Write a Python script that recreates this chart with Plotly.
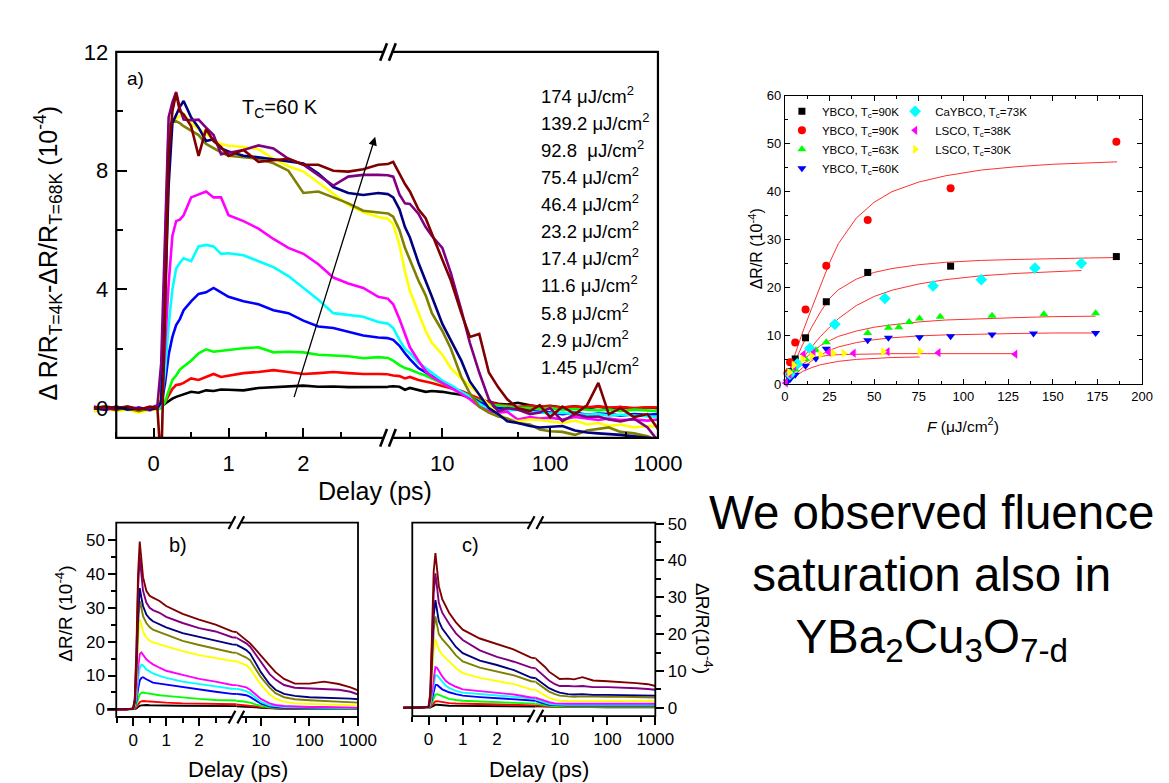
import plotly.graph_objects as go

W, H = 1169, 783
FONT = "Liberation Sans, Arial, Helvetica, sans-serif"


def fx(px):
    return px / W


def fy(py):
    return 1 - py / H


# ---------------- panel a: 60 K film, pump-probe difference traces ----------------
T_A = [-0.8, -0.65, -0.5, -0.35, -0.2, -0.05,
       0.05, 0.1, 0.15, 0.2, 0.25, 0.3, 0.35, 0.4,
       0.5, 0.6, 0.7, 0.8, 0.9, 1.0,
       1.2, 1.4, 1.6, 1.8, 2.0, 2.2, 2.4, 2.6, 2.8, 3.0,
       3.5, 4, 4.5, 5, 6, 7, 8, 10, 12, 15, 18, 22, 27, 33, 40, 50, 65, 80,
       100, 130, 170, 220, 280, 350, 450, 600, 800, 1000]

A_BLACK = [-0.05, 0.03, -0.05, 0.0, -0.05, 0.02,
           0.0, 0.05, 0.15, 0.25, 0.32, 0.38, 0.42, 0.45,
           0.55, 0.52, 0.6, 0.58, 0.63, 0.62,
           0.6, 0.68, 0.7, 0.74, 0.76, 0.72, 0.73, 0.71, 0.72, 0.72,
           0.74, 0.72, 0.62, 0.68, 0.6, 0.55, 0.58, 0.55, 0.5, 0.45, 0.35, 0.28, 0.2, 0.15, 0.12, 0.18, 0.1, 0.05,
           0.08, 0.02, 0.06, 0.0, 0.05, 0.0, 0.04, -0.02, 0.03, 0.0]
A_RED = [0.02, -0.05, 0.05, -0.05, 0.0, -0.03,
         0.0, 0.05, 0.2, 0.45, 0.65, 0.78, 0.8, 0.85,
         1.0, 0.95, 1.05, 1.15, 1.05, 1.1,
         1.18, 1.22, 1.28, 1.22, 1.15, 1.18, 1.22, 1.18, 1.15, 1.15,
         1.1, 1.08, 1.0, 1.05, 0.95, 0.9, 0.85, 0.75, 0.68, 0.58, 0.45, 0.32, 0.2, 0.12, 0.08, 0.05, 0.08, 0.05,
         0.06, 0.02, 0.05, 0.03, 0.06, 0.02, 0.04, 0.0, 0.03, 0.02]
A_GREEN = [-0.1, -0.02, -0.05, 0.02, -0.08, 0.0,
           -0.05, 0.0, 0.2, 0.6, 0.95, 1.1, 1.3, 1.4,
           1.6, 1.85, 1.98, 1.9, 1.93, 1.98,
           2.02, 2.05, 1.88, 1.9, 1.88, 1.8, 1.78, 1.75, 1.68, 1.72,
           1.6, 1.45, 1.35, 1.3, 1.18, 1.1, 1.0, 0.82, 0.7, 0.55, 0.4, 0.25, 0.12, 0.08, 0.05, 0.02, 0.0, -0.02,
           0.0, -0.05, -0.03, -0.05, -0.08, -0.05, -0.1, -0.05, -0.08, -0.1]
A_BLUE = [0.05, -0.05, 0.0, -0.05, 0.02, -0.05,
          0.0, 0.1, 0.8, 1.8, 2.4, 2.8, 3.0, 3.3,
          3.6, 3.85, 3.9, 4.05, 3.9, 3.75,
          3.6, 3.5, 3.3, 3.2, 2.95, 2.75, 2.7, 2.58, 2.45, 2.38,
          2.3, 2.1, 1.85, 1.65, 1.35, 1.2, 1.08, 0.87, 0.72, 0.55, 0.4, 0.2, 0.05, 0.0, -0.02, -0.05, -0.1, -0.12,
          -0.15, -0.2, -0.15, -0.22, -0.18, -0.2, -0.25, -0.2, -0.22, -0.2]
A_CYAN = [-0.05, 0.05, 0.0, -0.05, -0.1, 0.0,
          -0.05, 0.1, 1.2, 2.8, 4.0, 4.7, 4.9, 5.05,
          4.95, 5.45, 5.5, 5.45, 5.2, 5.22,
          5.15, 4.95, 4.75, 4.45, 4.05, 3.65, 3.2, 3.15, 3.08, 2.9,
          2.7, 2.3, 2.0, 1.85, 1.53, 1.35, 1.2, 0.93, 0.78, 0.55, 0.4, 0.15, -0.05, -0.12, -0.08, -0.05, -0.12, -0.15,
          -0.18, -0.15, -0.2, -0.22, -0.2, -0.25, -0.22, -0.25, -0.28, -0.3]
A_MAGENTA = [0.0, -0.05, -0.05, 0.0, -0.05, -0.08,
             0.0, 0.2, 2.0, 4.2, 5.8, 6.3, 6.35, 6.5,
             7.1, 7.2, 7.3, 7.1, 7.1, 6.5,
             6.3, 6.05, 5.7, 5.4, 5.2, 4.85, 4.4, 4.2, 4.05, 3.75,
             3.5, 3.0, 2.5, 2.05, 1.6, 1.25, 1.05, 0.85, 0.7, 0.48, 0.3, 0.05, -0.1, -0.15, -0.12, -0.38, -0.3, -0.35,
             -0.32, -0.38, -0.3, -0.35, -0.4, -0.35, -0.4, -0.38, -0.42, -0.38]
A_YELLOW = [-0.1, 0.0, -0.1, -0.05, -0.15, -0.05,
            -0.05, 0.5, 4.5, 9.2, 9.6, 9.75, 9.85, 9.9,
            9.6, 9.4, 9.25, 9.05, 8.9, 8.84,
            8.8, 8.72, 8.4, 8.15, 7.97, 7.6, 7.2, 6.85, 6.6, 6.44,
            6.2, 5.5, 4.6, 3.95, 3.2, 2.6, 2.2, 1.8, 1.35, 1.0, 0.75, 0.45, 0.1, -0.2, -0.35, -0.44, -0.38, -0.4,
            -0.45, -0.5, -0.42, -0.55, -0.5, -0.6, -0.55, -0.65, -0.6, -0.62]
A_OLIVE = [0.0, 0.05, -0.05, 0.0, -0.1, 0.0,
           0.0, 0.3, 5.0, 9.5, 9.65, 9.66, 9.6, 9.5,
           9.35, 9.2, 8.9, 8.75, 8.62, 8.5,
           8.45, 8.4, 8.25, 8.0, 7.25, 7.3, 7.1, 6.9, 6.65, 6.6,
           6.45, 6.0, 5.4, 5.0, 4.3, 3.8, 3.2, 2.6, 2.0, 1.05, 0.5, 0.05, -0.15, -0.28, -0.35, -0.5, -0.55, -0.72,
           -0.78, -0.8, -0.9, -0.75, -0.7, -0.65, -0.8, -0.85, -0.95, -1.1]
A_NAVY = [0.0, -0.05, 0.05, -0.05, 0.0, -0.05,
          0.0, 0.2, 3.5, 7.5, 9.6, 9.9, 10.15, 10.35,
          9.8, 9.45, 9.0, 9.06, 8.75, 8.65,
          8.5, 8.45, 8.38, 8.32, 8.24, 7.9, 7.45, 7.25, 7.18, 7.25,
          7.1, 6.7, 6.1, 5.75, 4.9, 4.3, 3.75, 2.84, 2.3, 1.6, 0.9, 0.45, 0.0, -0.2, -0.44, -0.5, -0.6, -0.65,
          -0.62, -0.6, -0.75, -0.82, -0.85, -0.87, -0.9, -0.95, -1.0, -1.04]
A_PURPLE = [0.05, 0.0, -0.05, 0.05, -0.02, 0.0,
            0.1, 1.5, 6.0, 9.8, 10.3, 10.65, 10.1, 9.72,
            9.7, 9.72, 9.45, 9.2, 8.55, 8.6,
            8.7, 8.85, 8.75, 8.4, 8.2, 7.85, 7.5, 7.8, 7.86, 7.86,
            7.8, 7.2, 6.9, 6.88, 6.55, 6.1, 5.8, 5.4, 4.55, 3.3, 2.2, 1.2, 0.3, -0.1, 0.0, -0.05, -0.2, -0.15,
            0.0, -0.44, -0.2, -0.3, -0.28, -0.38, -0.45, -0.35, -0.65, -1.1]
A_MAROON = [0.0, 0.05, 0.0, 0.05, -0.05, 0.05,
            0.0, -2.0, 3.0, 8.5, 10.0, 10.6, 10.0, 9.9,
            9.5, 8.5, 9.4, 9.0, 8.8, 8.5,
            8.7, 8.3, 8.35, 8.4, 8.2, 8.2, 8.0, 7.97, 8.05, 8.2,
            8.3, 7.9, 7.55, 7.3, 6.7, 6.4, 5.9, 5.0, 4.3, 3.2, 2.4, 2.5, 1.2, 0.7, 0.3, 0.0, -0.1, 0.1,
            -0.3, 0.05, -0.2, 0.1, 0.85, -0.2, 0.0, -0.3, -0.2, -0.7]

# ---------------- panels b and c: time grid shared by both ----------------
T_BC = [-0.8, -0.5, -0.2, 0.0, 0.05, 0.1, 0.15, 0.2, 0.25, 0.3, 0.4, 0.5, 0.6, 0.8, 1.0,
        1.5, 2.0, 2.5, 3.0, 4, 5, 6, 8, 10, 15, 20, 30, 50, 100, 200, 400, 700, 1000]

B_BLACK = [0, 0, 0, 0.02, 0.1, 0.3, 0.7, 1.05, 1.2, 1.3, 1.3, 1.25, 1.2, 1.2, 1.15,
           1.1, 1.05, 1.0, 0.95, 0.9, 0.85, 0.75, 0.6, 0.45, 0.3, 0.2, 0.15, 0.1, 0.1, 0.1, 0.08, 0.08, 0.08]
B_RED = [0, 0, 0, 0.03, 0.2, 0.6, 1.5, 2.1, 2.4, 2.5, 2.4, 2.3, 2.2, 2.1, 2.0,
         1.8, 1.7, 1.6, 1.5, 1.4, 1.3, 1.2, 0.9, 0.7, 0.4, 0.3, 0.2, 0.2, 0.15, 0.1, 0.1, 0.1, 0.1]
B_GREEN = [0, 0, 0, 0.05, 0.3, 1.3, 3.0, 4.4, 4.9, 5.0, 4.8, 4.6, 4.4, 4.2, 4.0,
           3.5, 3.1, 2.8, 2.5, 2.4, 2.3, 2.0, 1.4, 1.0, 0.6, 0.4, 0.3, 0.3, 0.2, 0.2, 0.2, 0.2, 0.2]
B_BLUE = [0, 0, 0, 0.1, 0.5, 2.5, 6.0, 8.5, 9.3, 9.5, 8.9, 8.3, 7.9, 7.6, 7.3,
          6.5, 5.9, 5.2, 4.6, 4.4, 4.2, 3.7, 2.6, 1.7, 0.9, 0.6, 0.5, 0.4, 0.3, 0.3, 0.3, 0.3, 0.3]
B_CYAN = [0, 0, 0, 0.1, 0.8, 3.5, 9.0, 12.3, 13.2, 13.0, 11.8, 11.2, 10.6, 9.9, 9.3,
          8.2, 7.4, 6.8, 6.1, 5.8, 5.4, 4.8, 3.3, 2.2, 1.2, 0.9, 0.7, 0.6, 0.5, 0.5, 0.4, 0.4, 0.4]
B_MAGENTA = [0, 0, 0, 0.1, 1.0, 5.0, 12.0, 16.3, 16.8, 16.2, 14.8, 14.0, 13.3, 12.3, 11.4,
             10.2, 9.0, 8.2, 7.2, 6.9, 6.5, 5.8, 4.3, 3.1, 1.8, 1.3, 1.0, 0.8, 0.7, 0.7, 0.6, 0.6, 0.5]
B_YELLOW = [0, 0, 0, 0.2, 1.5, 8.0, 20.0, 26.5, 25.0, 23.0, 21.2, 20.3, 19.8, 19.2, 18.7,
            17.2, 16.0, 15.2, 14.3, 13.6, 13.0, 12.0, 9.5, 7.3, 4.5, 3.2, 2.3, 1.8, 1.6, 1.5, 1.4, 1.3, 1.2]
B_OLIVE = [0, 0, 0, 0.2, 2.0, 10.0, 25.0, 32.0, 30.0, 27.5, 25.5, 24.3, 23.5, 22.8, 22.0,
           20.2, 19.0, 18.0, 16.8, 16.0, 15.3, 14.5, 11.8, 9.5, 6.5, 4.8, 3.6, 3.0, 2.7, 2.5, 2.4, 2.2, 2.0]
B_NAVY = [0, 0, 0, 0.2, 2.0, 12.0, 28.0, 35.8, 33.0, 30.5, 28.0, 26.8, 26.0, 25.0, 24.2,
          22.5, 21.3, 20.3, 19.2, 18.3, 17.5, 16.5, 13.5, 11.0, 7.5, 5.8, 4.6, 4.0, 3.6, 3.5, 3.4, 3.2, 3.0]
B_PURPLE = [0, 0, 0, 0.3, 3.0, 16.0, 36.0, 45.0, 40.0, 35.0, 31.5, 30.0, 29.3, 28.5, 27.3,
            25.5, 24.0, 23.0, 21.3, 20.2, 19.5, 18.5, 16.0, 14.0, 10.5, 8.8, 7.2, 6.4, 6.2, 6.0, 5.8, 5.2, 4.4]
B_MAROON = [0, 0, 0, 0.3, 3.0, 18.0, 40.0, 49.5, 44.0, 39.0, 35.0, 33.5, 33.0, 32.0, 30.5,
            28.2, 26.5, 25.0, 23.0, 21.5, 20.5, 19.5, 17.5, 16.0, 13.0, 11.0, 9.0, 7.6, 7.6, 8.2, 7.5, 6.5, 5.6]

C_BLACK = [0, 0, 0, 0.01, 0.05, 0.3, 0.6, 0.8, 0.8, 0.75, 0.7, 0.6, 0.55, 0.5, 0.5,
           0.45, 0.4, 0.38, 0.35, 0.3, 0.25, 0.2, 0.15, 0.12, 0.1, 0.1, 0.1, 0.1, 0.1, 0.1, 0.1, 0.1, 0.1]
C_RED = [0, 0, 0, 0.02, 0.15, 0.7, 1.4, 1.75, 1.8, 1.7, 1.5, 1.3, 1.25, 1.15, 1.1,
         1.0, 0.9, 0.75, 0.6, 0.45, 0.35, 0.3, 0.25, 0.2, 0.2, 0.2, 0.2, 0.2, 0.2, 0.2, 0.2, 0.2, 0.2]
C_GREEN = [0, 0, 0, 0.02, 0.3, 1.4, 2.9, 3.6, 3.7, 3.5, 3.0, 2.6, 2.4, 2.1, 1.9,
           1.7, 1.5, 1.3, 1.1, 0.8, 0.6, 0.5, 0.4, 0.35, 0.35, 0.35, 0.35, 0.35, 0.35, 0.35, 0.35, 0.35, 0.35]
C_BLUE = [0, 0, 0, 0.05, 0.5, 2.5, 5.0, 6.2, 6.2, 5.8, 5.0, 4.6, 4.2, 3.7, 3.3,
          2.9, 2.6, 2.3, 1.9, 1.4, 1.0, 0.8, 0.7, 0.6, 0.6, 0.6, 0.6, 0.6, 0.6, 0.6, 0.6, 0.6, 0.6]
C_CYAN = [0, 0, 0, 0.1, 0.8, 3.5, 7.0, 8.8, 8.8, 8.2, 6.9, 6.0, 5.4, 4.6, 4.1,
          3.7, 3.3, 2.9, 2.4, 1.8, 1.3, 1.1, 0.9, 0.8, 0.8, 0.8, 0.8, 0.8, 0.8, 0.8, 0.8, 0.8, 0.8]
C_MAGENTA = [0, 0, 0, 0.1, 1.0, 4.5, 9.0, 11.0, 10.8, 10.0, 8.5, 7.3, 6.6, 5.7, 5.0,
             4.5, 4.1, 3.6, 2.8, 2.2, 1.7, 1.5, 1.2, 1.1, 1.1, 1.1, 1.1, 1.1, 1.1, 1.1, 1.1, 1.1, 1.1]
C_YELLOW = [0, 0, 0, 0.1, 1.5, 8.0, 15.5, 18.6, 17.2, 15.8, 14.4, 13.4, 12.6, 10.8, 9.4,
            8.1, 7.2, 6.4, 5.0, 4.0, 3.2, 2.7, 2.2, 1.9, 1.8, 1.8, 1.8, 1.8, 1.8, 1.8, 1.8, 1.8, 1.8]
C_OLIVE = [0, 0, 0, 0.2, 2.0, 11.0, 21.0, 24.8, 22.0, 20.0, 18.6, 17.6, 16.5, 14.2, 12.6,
           10.9, 9.9, 8.8, 7.2, 6.0, 5.0, 4.4, 3.7, 3.3, 3.1, 3.0, 3.1, 3.0, 3.0, 3.0, 3.0, 2.9, 2.8]
C_NAVY = [0, 0, 0, 0.2, 2.5, 13.0, 25.0, 29.2, 26.0, 23.5, 21.5, 20.3, 19.0, 16.5, 14.8,
          12.8, 11.6, 10.2, 8.2, 7.0, 6.0, 5.3, 4.6, 4.1, 3.7, 3.6, 3.7, 3.5, 3.5, 3.5, 3.5, 3.4, 3.3]
C_PURPLE = [0, 0, 0, 0.3, 3.5, 17.0, 31.0, 36.5, 32.0, 28.5, 25.8, 24.2, 22.8, 20.2, 18.4,
            15.6, 13.8, 12.5, 10.9, 9.5, 8.3, 7.4, 6.4, 5.9, 5.9, 5.8, 5.9, 5.6, 5.6, 5.5, 5.3, 5.1, 4.9]
C_MAROON = [0, 0, 0, 0.3, 4.0, 20.0, 37.0, 42.0, 37.0, 33.0, 29.5, 27.5, 25.8, 23.2, 21.2,
            18.8, 17.2, 15.8, 13.6, 12.2, 11.0, 9.8, 8.6, 7.8, 7.9, 7.7, 8.3, 7.4, 7.2, 7.0, 6.7, 6.4, 5.9]

# lowest to highest pump fluence (uJ/cm^2)
FLUENCES = ["1.45", "2.9", "5.8", "11.6", "17.4", "23.2", "46.4", "75.4", "92.8", "139.2", "174"]
COLORS = ["#000000", "#ff0000", "#00ff00", "#0000ff", "#00ffff", "#ff00ff",
          "#ffff00", "#808000", "#000080", "#800080", "#800000"]

A_SERIES = [A_BLACK, A_RED, A_GREEN, A_BLUE, A_CYAN, A_MAGENTA, A_YELLOW, A_OLIVE, A_NAVY, A_PURPLE, A_MAROON]
B_SERIES = [B_BLACK, B_RED, B_GREEN, B_BLUE, B_CYAN, B_MAGENTA, B_YELLOW, B_OLIVE, B_NAVY, B_PURPLE, B_MAROON]
C_SERIES = [C_BLACK, C_RED, C_GREEN, C_BLUE, C_CYAN, C_MAGENTA, C_YELLOW, C_OLIVE, C_NAVY, C_PURPLE, C_MAROON]

for s in A_SERIES:
    assert len(s) == len(T_A)
for s in B_SERIES + C_SERIES:
    assert len(s) == len(T_BC)

# ---------------- panel d: saturation of the amplitude vs fluence ----------------
D_YBCO90_SQ_F = [2.9, 5.8, 11.6, 23.2, 46.4, 92.8, 185.6]
D_YBCO90_SQ_Y = [2.6, 5.2, 9.6, 17.1, 23.2, 24.5, 26.5]
D_YBCO90_CI_F = [1.45, 2.9, 5.8, 11.6, 23.2, 46.4, 92.8, 185.6]
D_YBCO90_CI_Y = [2.2, 4.5, 8.6, 15.5, 24.6, 34.1, 40.7, 50.4]
D_YBCO63_F = [2.9, 5.8, 11.6, 17.4, 23.2, 46.4, 58, 63.8, 69.6, 75.4, 87, 116, 145, 174]
D_YBCO63_Y = [1.5, 3.0, 5.2, 7.0, 8.7, 10.6, 11.7, 11.8, 12.9, 13.6, 14.0, 14.2, 14.5, 14.7]
D_YBCO60_F = [1.45, 2.9, 5.8, 11.6, 17.4, 23.2, 46.4, 58, 75.4, 92.8, 116, 139.2, 174]
D_YBCO60_Y = [0.5, 1.0, 1.9, 3.8, 5.3, 7.3, 9.1, 9.6, 9.7, 9.9, 10.3, 10.5, 10.6]
D_CAYBCO_F = [2.8, 7, 14, 28, 56, 83, 110, 140, 166]
D_CAYBCO_Y = [2.0, 4.2, 7.4, 12.4, 17.8, 20.4, 21.7, 24.1, 25.1]
D_LSCO38_F = [0.5, 2.6, 5.2, 10.5, 16, 24.5, 38.5, 57.5, 86, 129]
D_LSCO38_Y = [0.2, 2.0, 3.6, 6.2, 6.5, 6.6, 6.4, 6.7, 6.5, 6.2]
D_LSCO30_F = [2.5, 5, 10, 15, 20, 27, 33, 55, 75.5]
D_LSCO30_Y = [2.4, 3.9, 5.2, 5.8, 6.1, 6.4, 6.4, 6.7, 6.8]

# saturation fit curves
FIT_F_186 = [0, 5, 10, 15, 20, 25, 30, 40, 50, 60, 75, 90, 110, 130, 150, 170, 186]
FIT_RED_Y = [0, 5.5, 10.8, 15.7, 20.3, 25.2, 29.2, 34.5, 37.8, 40.0, 42.0, 43.3, 44.5, 45.2, 45.7, 46.0, 46.2]
FIT_BLACK_Y = [0, 4.2, 8.2, 11.8, 15.0, 17.8, 19.6, 21.8, 23.2, 24.0, 24.8, 25.3, 25.7, 25.9, 26.1, 26.2, 26.3]
FIT_F_166 = [0, 5, 10, 15, 20, 25, 30, 40, 50, 60, 75, 90, 110, 130, 150, 166]
FIT_CYAN_Y = [0, 2.7, 5.3, 7.7, 9.9, 11.8, 13.6, 16.3, 18.2, 19.5, 20.8, 21.7, 22.5, 23.0, 23.4, 23.6]
FIT_F_174 = [0, 5, 10, 15, 20, 25, 30, 40, 50, 60, 75, 90, 110, 130, 150, 174]
FIT_GREEN_Y = [0, 2.5, 4.8, 6.6, 8.0, 9.0, 9.9, 11.0, 11.8, 12.3, 12.9, 13.3, 13.6, 13.8, 14.0, 14.1]
FIT_BLUE_Y = [0, 1.7, 3.4, 4.8, 6.0, 7.0, 7.7, 8.6, 9.2, 9.6, 10.0, 10.2, 10.4, 10.5, 10.6, 10.6]
FIT_F_129 = [0, 5, 10, 15, 20, 25, 30, 40, 60, 80, 100, 129]
FIT_MAGENTA_Y = [0, 2.4, 4.2, 5.2, 5.7, 6.0, 6.1, 6.2, 6.3, 6.3, 6.3, 6.3]
FIT_F_75 = [0, 5, 10, 15, 20, 25, 30, 40, 50, 60, 75.5]
FIT_YELLOW_Y = [0, 1.4, 2.6, 3.4, 4.0, 4.4, 4.7, 5.1, 5.3, 5.5, 5.6]

# split-axis geometry: linear part up to T_SPLIT ps, logarithmic part after it
T_SPLIT = 3.13
LOG_START = 0.4955  # log10(T_SPLIT)

fig = go.Figure()


def add_split_traces(t, series, xlin, xlog, yax, width):
    """Each trace is drawn twice: on the linear early-time axis and the log late-time axis."""
    for ys, col in zip(series, COLORS):
        lin = [(a, b) for a, b in zip(t, ys) if a <= 4.0]
        lg = [(a, b) for a, b in zip(t, ys) if a >= 2.0]
        for pts, xa in ((lin, xlin), (lg, xlog)):
            fig.add_trace(go.Scatter(
                x=[p[0] for p in pts], y=[p[1] for p in pts], mode="lines",
                line=dict(color=col, width=width), xaxis=xa, yaxis=yax,
                showlegend=False, hoverinfo="skip"))


add_split_traces(T_A, A_SERIES, "x", "x2", "y", 2.6)
add_split_traces(T_BC, B_SERIES, "x3", "x4", "y3", 1.9)
add_split_traces(T_BC, C_SERIES, "x5", "x6", "y5", 1.9)

for ff, yy in [(FIT_F_186, FIT_RED_Y), (FIT_F_186, FIT_BLACK_Y), (FIT_F_166, FIT_CYAN_Y),
               (FIT_F_174, FIT_GREEN_Y), (FIT_F_174, FIT_BLUE_Y), (FIT_F_129, FIT_MAGENTA_Y),
               (FIT_F_75, FIT_YELLOW_Y)]:
    fig.add_trace(go.Scatter(x=ff, y=yy, mode="lines", line=dict(color="#ff3030", width=1),
                             xaxis="x7", yaxis="y7", showlegend=False, hoverinfo="skip"))

D_SETS = [
    (D_YBCO90_SQ_F, D_YBCO90_SQ_Y, "YBCO, T<sub>c</sub>=90K", "square", "#000000", 7, "legend"),
    (D_YBCO90_CI_F, D_YBCO90_CI_Y, "YBCO, T<sub>c</sub>=90K", "circle", "#ff0000", 8, "legend"),
    (D_YBCO63_F, D_YBCO63_Y, "YBCO, T<sub>c</sub>=63K", "triangle-up", "#00ff00", 8, "legend"),
    (D_YBCO60_F, D_YBCO60_Y, "YBCO, T<sub>c</sub>=60K", "triangle-down", "#0000ff", 8, "legend"),
    (D_CAYBCO_F, D_CAYBCO_Y, "CaYBCO, T<sub>c</sub>=73K", "diamond", "#00ffff", 9, "legend2"),
    (D_LSCO38_F, D_LSCO38_Y, "LSCO, T<sub>c</sub>=38K", "triangle-left", "#ff00ff", 8, "legend2"),
    (D_LSCO30_F, D_LSCO30_Y, "LSCO, T<sub>c</sub>=30K", "triangle-right", "#ffff00", 8, "legend2"),
]
for ff, yy, name, sym, col, size, leg in D_SETS:
    fig.add_trace(go.Scatter(x=ff, y=yy, mode="markers", name=name,
                             marker=dict(symbol=sym, color=col, size=size, line=dict(width=0)),
                             xaxis="x7", yaxis="y7", legend=leg, cliponaxis=False))

# ---------------- axes ----------------
base = dict(showgrid=False, zeroline=False, showline=False, color="black",
            tickfont=dict(family=FONT, color="black"))


def axis(**kw):
    d = dict(base)
    d.update(kw)
    return d


# panel a: t=0 at x=153 px, 76.8 px per ps on the linear part
A_TOP, A_BOT, A_LEFT, A_RIGHT = 41, 437, 115, 670
A_BRK = 153 + 76.8 * T_SPLIT
fig.update_layout(
    xaxis=axis(domain=[fx(92), fx(A_BRK)], range=[-0.8, T_SPLIT], anchor="y",
               tickmode="array", tickvals=[0, 1, 2], ticks="inside", ticklen=10, tickwidth=2,
               minor=dict(ticks="inside", ticklen=6, tickwidth=2, tickmode="array",
                          tickvals=[-0.5, 0.5, 1.5, 2.5]),
               tickfont=dict(size=22, family=FONT), ticklabelstandoff=10),
    xaxis2=axis(type="log", domain=[fx(A_BRK), fx(A_RIGHT)], range=[LOG_START, 3.0], anchor="y",
                tickmode="array", tickvals=[10, 100, 1000], ticktext=["10", "100", "1000"],
                ticks="inside", ticklen=10, tickwidth=2,
                minor=dict(ticks="inside", ticklen=6, tickwidth=2, tickmode="array",
                           tickvals=[5, 50, 500]),
                tickfont=dict(size=22, family=FONT), ticklabelstandoff=10),
    yaxis=axis(domain=[fy(A_BOT), fy(A_TOP)], range=[-1.0, 12.0], anchor="free", position=fx(A_LEFT),
               tickmode="array", tickvals=[0, 4, 8, 12], ticks="inside", ticklen=10, tickwidth=2,
               minor=dict(ticks="inside", ticklen=6, tickwidth=2, tickmode="array", tickvals=[2, 6, 10]),
               tickfont=dict(size=22, family=FONT), ticklabelstandoff=8),
)

# panel b: t=0 at 132.3 px, 33.8 px per ps
B_TOP, B_BOT, B_LEFT, B_RIGHT = 524, 723.5, 115, 362.7
B_BRK = 132.3 + 33.8 * T_SPLIT
B_X0 = 132.3 - 33.8 * 0.78
# panel c: t=0 at 435 px, 35 px per ps
C_TOP, C_BOT, C_LEFT, C_RIGHT = 524, 722.5, 418.3, 667.3
C_BRK = 435 + 35 * T_SPLIT
C_X0 = 435 - 35 * 0.74

small_lin = dict(tickmode="array", tickvals=[0, 1, 2], ticks="outside", ticklen=8, tickwidth=1.6,
                 minor=dict(ticks="outside", ticklen=5, tickwidth=1.6, tickmode="array",
                            tickvals=[-0.5, 0.5, 1.5, 2.5]),
                 tickfont=dict(size=17, family=FONT))
small_log = dict(type="log", range=[LOG_START, 3.0], tickmode="array", tickvals=[10, 100, 1000],
                 ticktext=["10", "100", "1000"], ticks="outside", ticklen=8, tickwidth=1.6,
                 minor=dict(ticks="outside", ticklen=5, tickwidth=1.6, tickmode="array",
                            tickvals=[5, 50, 500]),
                 tickfont=dict(size=17, family=FONT))
small_y = dict(tickmode="array", tickvals=[0, 10, 20, 30, 40, 50], ticks="outside", ticklen=8, tickwidth=1.6,
               minor=dict(ticks="outside", ticklen=5, tickwidth=1.6, tickmode="array",
                          tickvals=[5, 15, 25, 35, 45]),
               tickfont=dict(size=17, family=FONT))

fig.update_layout(
    xaxis3=axis(domain=[fx(B_X0), fx(B_BRK)], range=[-0.78, T_SPLIT], anchor="y3", **small_lin),
    xaxis4=axis(domain=[fx(B_BRK), fx(B_RIGHT)], anchor="y3", **small_log),
    yaxis3=axis(domain=[fy(B_BOT), fy(B_TOP)], range=[-2.24, 55.1], anchor="free",
                position=fx(B_LEFT), side="left", **small_y),
    xaxis5=axis(domain=[fx(C_X0), fx(C_BRK)], range=[-0.74, T_SPLIT], anchor="y5", **small_lin),
    xaxis6=axis(domain=[fx(C_BRK), fx(C_RIGHT)], anchor="y5", **small_log),
    yaxis5=axis(domain=[fy(C_BOT), fy(C_TOP)], range=[-2.25, 50.26], anchor="free",
                position=fx(C_RIGHT), side="right", **small_y),
)

# panel d
fig.update_layout(
    xaxis7=axis(domain=[fx(800), fx(1166)], range=[0, 200], anchor="y7", showline=True, linewidth=1,
                linecolor="black", mirror="allticks", tickmode="linear", tick0=0, dtick=25,
                ticks="inside", ticklen=5, tickwidth=1,
                minor=dict(ticks="inside", ticklen=3, tickwidth=1, dtick=12.5),
                tickfont=dict(size=13, family=FONT)),
    yaxis7=axis(domain=[fy(381.7), fy(85.7)], range=[0, 60], anchor="x7", showline=True, linewidth=1,
                linecolor="black", mirror="allticks", tickmode="linear", tick0=0, dtick=10,
                ticks="inside", ticklen=5, tickwidth=1,
                minor=dict(ticks="inside", ticklen=3, tickwidth=1, dtick=5),
                tickfont=dict(size=13, family=FONT)),
)

# ---------------- frames with axis-break marks ----------------
shapes = []


def px_rect(x0, y0, x1, y1, lw):
    shapes.append(dict(type="rect", xref="paper", yref="paper", x0=fx(x0), x1=fx(x1),
                       y0=fy(y1), y1=fy(y0), line=dict(color="black", width=lw),
                       fillcolor="rgba(0,0,0,0)"))


def break_mark(xc, y, h, lw):
    shapes.append(dict(type="rect", xref="paper", yref="paper", x0=fx(xc - 4), x1=fx(xc + 4),
                       y0=fy(y + 2.5), y1=fy(y - 2.5), line=dict(width=0), fillcolor="white"))
    for cx in (xc - 4.5, xc + 4.5):
        shapes.append(dict(type="line", xref="paper", yref="paper",
                           x0=fx(cx - 3.5), y0=fy(y + h / 2), x1=fx(cx + 3.5), y1=fy(y - h / 2),
                           line=dict(color="black", width=lw)))


px_rect(A_LEFT, A_TOP, A_RIGHT, A_BOT, 2.2)
break_mark(A_BRK, A_TOP, 18, 2.6)
break_mark(A_BRK, A_BOT, 18, 2.6)
px_rect(B_LEFT, B_TOP, B_RIGHT, B_BOT, 1.8)
break_mark(B_BRK, B_TOP, 13, 2.2)
break_mark(B_BRK, B_BOT, 13, 2.2)
px_rect(C_LEFT, C_TOP, C_RIGHT, C_BOT, 1.8)
break_mark(C_BRK, C_TOP, 13, 2.2)
break_mark(C_BRK, C_BOT, 13, 2.2)

# ---------------- text ----------------
anns = []


def txt(text, x, y, size, xanchor="center", yanchor="middle", angle=0):
    anns.append(dict(text=text, x=fx(x), y=fy(y), xref="paper", yref="paper", showarrow=False,
                     xanchor=xanchor, yanchor=yanchor, textangle=angle,
                     font=dict(size=size, family=FONT, color="black")))


txt("a)", 135, 68, 19)
txt("T<sub>C</sub>=60 K", 283, 99, 20)
for i, f in enumerate(reversed(FLUENCES)):
    gap = "\u00a0 " if f == "92.8" else " "
    txt(f + gap + "\u03bcJ/cm<sup>2</sup>", 548, 85 + i * 27.8, 18.5, xanchor="left")
txt("\u0394 R/R<sub>T=4K</sub>-\u0394R/R<sub>T=68K</sub> (10<sup>-4</sup>)", 45, 247, 25, angle=-90)
txt("Delay (ps)", 380, 492, 25)

txt("b)", 178, 547, 20)
txt("\u0394R/R (10<sup>-4</sup>)", 62, 618, 19, angle=-90)
txt("Delay (ps)", 240, 777, 22)
txt("c)", 478, 547, 20)
txt("\u0394R/R(10<sup>-4</sup>)", 717, 633, 19, angle=90)
txt("Delay (ps)", 548, 777, 22)

txt("<i>F</i> (\u03bcJ/cm<sup>2</sup>)", 983, 424, 15.5)
txt("\u0394R/R (10<sup>-4</sup>)", 770, 243, 16, angle=-90)

txt("We observed fluence<br>saturation also in<br>YBa<sub>2</sub>Cu<sub>3</sub>O<sub>7-d</sub>",
    950, 580, 47.5)

# arrow showing increasing fluence
anns.append(dict(x=2.96, y=9.14, xref="x", yref="y", ax=1.87, ay=0.32, axref="x", ayref="y",
                 text="", showarrow=True, arrowhead=2, arrowsize=1.3, arrowwidth=1.3,
                 arrowcolor="black"))

fig.update_layout(
    width=W, height=H, margin=dict(l=0, r=0, t=0, b=0),
    paper_bgcolor="white", plot_bgcolor="rgba(0,0,0,0)",
    font=dict(family=FONT, color="black"),
    shapes=shapes, annotations=anns,
    legend=dict(x=fx(797), y=fy(87), xanchor="left", yanchor="top", bgcolor="rgba(0,0,0,0)",
                font=dict(size=11.5, family=FONT), itemwidth=30, tracegroupgap=0),
    legend2=dict(x=fx(913), y=fy(87), xanchor="left", yanchor="top", bgcolor="rgba(0,0,0,0)",
                 font=dict(size=11.5, family=FONT), itemwidth=30, tracegroupgap=0),
)

fig.write_html("out.html")
